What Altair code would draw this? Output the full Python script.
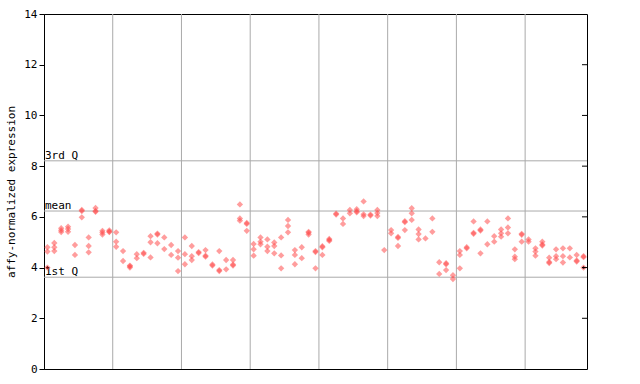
import altair as alt
import pandas as pd

# replicate values per sample (sample index 0..78)
samples_a = [
    [4.8, 4.63, 4.0], [4.97, 4.8, 4.65], [5.55, 5.47, 5.4], [5.61, 5.52, 5.41],
    [4.89, 4.5], [6.27, 6.23, 5.98], [5.19, 4.85, 4.6], [6.35, 6.23, 6.2],
    [5.45, 5.38, 5.3], [5.47, 5.42, 5.4],
]
samples_b = [
    [5.39, 5.02, 4.82], [4.65, 4.26], [4.05, 4.0, 4.08], [4.53, 4.37],
    [4.58, 4.54], [5.24, 5.0, 4.4], [5.34, 5.3, 4.96], [5.19, 4.73],
    [4.89, 4.5], [4.65, 4.39, 3.86],
]
samples_c = [
    [5.19, 4.53, 4.13], [4.85, 4.45, 4.3], [4.61, 4.57], [4.69, 4.47, 4.43],
    [4.12, 4.08], [4.65, 3.9, 3.86], [4.3, 3.93], [4.3, 4.12, 4.08],
    [6.49, 5.94, 5.85], [5.76, 5.72, 5.45],
]
samples_d = [
    [4.93, 4.72, 4.47], [5.19, 5.02, 4.92], [5.11, 4.82, 4.65], [4.99, 4.85, 4.56],
    [5.19, 4.48, 3.97], [5.88, 5.64, 5.39], [4.69, 4.5, 4.13], [4.8, 4.37],
    [5.41, 5.37, 5.3], [4.65, 4.61, 3.97],
]
samples_e = [
    [4.84, 4.8, 4.5], [5.13, 5.09, 5.05], [6.13, 6.09], [5.94, 5.72],
    [6.27, 6.14], [6.3, 6.22, 6.18], [6.61, 6.1, 6.03], [6.09, 6.05],
    [6.27, 6.15, 6.03], [4.69],
]
samples_f = [
    [5.48, 5.35], [5.21, 5.17, 4.85], [5.83, 5.79, 5.48], [6.34, 6.14, 5.88],
    [5.5, 5.32, 5.11], [5.15], [5.94, 5.41], [4.21, 3.75],
    [4.17, 4.13, 3.9], [3.7, 3.55],
]
samples_g = [
    [4.65, 4.5, 3.97], [4.8, 4.76], [5.82, 5.37, 5.33], [5.5, 5.46, 4.56],
    [5.82, 4.92], [5.24, 5.02], [5.5, 5.35, 5.22], [5.94, 5.58, 5.35],
    [4.72, 4.43, 4.33], [5.33, 5.29, 5.02],
]
samples_h = [
    [5.11, 5.02], [4.76, 4.63, 4.47], [5.02, 4.91, 4.87], [4.39, 4.22, 4.18],
    [4.72, 4.45, 4.33], [4.76, 4.45, 4.2], [4.76, 4.4], [4.5, 4.28, 4.24],
    [4.45, 4.41, 4.0],
]

marked_samples = [0, 78]
marked_values = [4.0, 4.0]

grid_x = [9.5, 19.5, 29.5, 39.5, 49.5, 59.5, 69.5]
stat_names = ["3rd Q", "mean", "1st Q"]
stat_values = [8.21, 6.23, 3.62]
right_ticks = [2, 4, 6, 8, 10, 12]

all_samples = samples_a + samples_b + samples_c + samples_d + samples_e + samples_f + samples_g + samples_h
rows = []
for i, vals in enumerate(all_samples):
    for v in vals:
        rows.append({"sample": i, "value": v})
pts = pd.DataFrame(rows)
marked = pd.DataFrame({"sample": marked_samples, "value": marked_values})
gx = pd.DataFrame({"g": grid_x})
stats = pd.DataFrame({"name": stat_names, "value": stat_values})
rt = pd.DataFrame({"t": right_ticks})

FONT = "DejaVu Sans Mono"
xscale = alt.Scale(domain=[-0.5, 78.5], nice=False, zero=False)
yscale = alt.Scale(domain=[0, 14], nice=False)
GRID = "#aaaaaa"

yaxis = alt.Axis(
    title="affy-normalized expression",
    values=[0, 2, 4, 6, 8, 10, 12, 14],
    grid=False,
    domainColor="black",
    tickColor="black",
    tickSize=5,
    labelFont=FONT,
    labelFontSize=11,
    labelColor="black",
    labelPadding=2,
    titleFont=FONT,
    titleFontSize=11,
    titleFontWeight="normal",
    titleColor="black",
    titlePadding=7,
)

hgrid = alt.Chart(stats).mark_rule(color=GRID, strokeWidth=1).encode(
    y=alt.Y("value:Q", scale=yscale, axis=yaxis)
)
vgrid = alt.Chart(gx).mark_rule(color=GRID, strokeWidth=1).encode(
    x=alt.X("g:Q", scale=xscale, axis=None)
)
stat_text = alt.Chart(stats).mark_text(
    align="left", baseline="alphabetic", dx=1, dy=-2, font=FONT, fontSize=11, color="black"
).encode(
    x=alt.value(0),
    y=alt.Y("value:Q", scale=yscale),
    text="name:N",
)
points = alt.Chart(pts).mark_point(
    shape="diamond", filled=True, size=40, color="#ff4d4d", opacity=0.55, strokeWidth=0
).encode(
    x=alt.X("sample:Q", scale=xscale, axis=None),
    y=alt.Y("value:Q", scale=yscale),
)
marks = alt.Chart(marked).mark_point(
    shape="cross", filled=True, size=9, color="#550000", strokeWidth=0
).encode(
    x=alt.X("sample:Q", scale=xscale, axis=None),
    y=alt.Y("value:Q", scale=yscale),
)
rticks = alt.Chart(rt).mark_rule(color="black", strokeWidth=1).encode(
    x=alt.value(538),
    x2=alt.value(543),
    y=alt.Y("t:Q", scale=yscale),
)

chart = alt.layer(hgrid, vgrid, stat_text, points, marks, rticks).properties(
    width=543,
    height=355,
    autosize=alt.AutoSizeParams(type="none"),
    padding={"left": 44, "top": 14, "right": 53, "bottom": 15},
    background="white",
).configure_view(stroke="black", strokeWidth=1)

chart.save("out.html", embed_options={"renderer": "svg", "actions": False})
